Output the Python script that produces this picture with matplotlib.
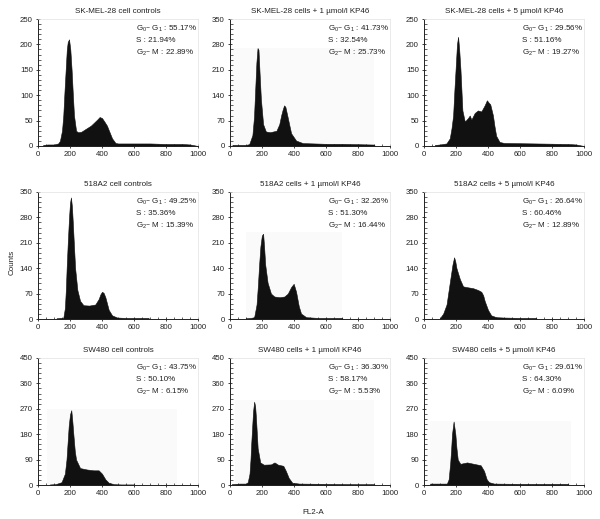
import matplotlib
matplotlib.use("Agg")
import matplotlib.pyplot as plt
from matplotlib.ticker import MultipleLocator, AutoMinorLocator

plt.rcParams['font.family'] = ['Liberation Sans', 'DejaVu Sans']
plt.rcParams['mathtext.default'] = 'regular'

# panel titles and y ranges
titles = ['SK-MEL-28 cell controls', 'SK-MEL-28 cells + 1 µmol/l KP46', 'SK-MEL-28 cells + 5 µmol/l KP46',
          '518A2 cell controls', '518A2 cells + 1 µmol/l KP46', '518A2 cells + 5 µmol/l KP46',
          'SW480 cell controls', 'SW480 cells + 1 µmol/l KP46', 'SW480 cells + 5 µmol/l KP46']
y_max = [250, 350, 250, 350, 350, 350, 450, 450, 450]
y_step = [50, 70, 50, 70, 70, 70, 90, 90, 90]

# cell cycle fractions (%)
g0g1 = ['55.17', '41.73', '29.56', '49.25', '32.26', '26.64', '43.75', '36.30', '29.61']
s_phase = ['21.94', '32.54', '51.16', '35.36', '51.30', '60.46', '50.10', '58.17', '64.30']
g2m = ['22.89', '25.73', '19.27', '15.39', '16.44', '12.89', '6.15', '5.53', '6.09']

# histogram outlines (FL2-A channel, counts)
skmel_ctrl_x = [32, 60, 100, 126, 137, 150, 158, 166, 173, 180, 186, 194, 202, 210, 218, 225, 238, 250, 270, 305, 330, 347, 370, 385, 400, 415, 431, 450, 463, 484, 500, 600, 700, 800, 900, 950, 1000]
skmel_ctrl_y = [2, 3, 3, 5, 10, 30, 60, 110, 150, 190, 205, 210, 190, 150, 100, 60, 30, 27, 28, 35, 40, 45, 52, 57, 55, 48, 40, 25, 15, 6, 5, 5, 5, 4, 4, 3, 0]

skmel_1_x = [15, 60, 98, 120, 140, 150, 157, 165, 172, 178, 185, 193, 207, 224, 250, 290, 308, 320, 329, 338, 346, 360, 372, 382, 413, 455, 600, 700, 800, 900, 905]
skmel_1_y = [3, 3, 3, 5, 30, 80, 150, 230, 270, 265, 200, 130, 60, 40, 38, 42, 60, 85, 100, 112, 108, 80, 55, 35, 15, 8, 6, 6, 5, 4, 0]

skmel_5_x = [68, 100, 140, 161, 172, 182, 190, 199, 206, 213, 220, 228, 240, 255, 275, 286, 296, 317, 337, 358, 379, 393, 405, 414, 431, 440, 451, 472, 500, 700, 900, 950, 1000]
skmel_5_y = [2, 3, 5, 15, 35, 60, 110, 160, 200, 215, 190, 150, 70, 48, 55, 60, 52, 65, 70, 68, 80, 90, 85, 82, 60, 40, 20, 8, 6, 5, 4, 3, 0]

a518_ctrl_x = [116, 140, 158, 168, 174, 179, 186, 194, 200, 206, 212, 217, 225, 232, 246, 263, 284, 320, 358, 379, 390, 400, 410, 421, 442, 463, 495, 550, 690, 695]
a518_ctrl_y = [2, 3, 3, 30, 80, 140, 210, 280, 320, 335, 310, 270, 200, 140, 80, 50, 38, 37, 40, 55, 68, 75, 72, 60, 25, 10, 4, 3, 3, 0]

a518_1_x = [98, 130, 151, 166, 174, 182, 190, 199, 207, 213, 220, 235, 256, 277, 310, 340, 361, 382, 398, 413, 430, 444, 476, 550, 700, 705]
a518_1_y = [2, 3, 5, 40, 90, 150, 200, 230, 235, 200, 150, 100, 70, 62, 60, 62, 70, 88, 97, 75, 35, 15, 5, 3, 3, 0]

a518_5_x = [99, 120, 141, 161, 178, 188, 195, 203, 224, 244, 265, 306, 337, 358, 370, 379, 400, 420, 451, 500, 600, 700, 705]
a518_5_y = [2, 15, 40, 100, 150, 170, 160, 140, 110, 90, 88, 85, 80, 75, 65, 50, 25, 10, 5, 4, 3, 3, 0]

sw_ctrl_x = [74, 110, 147, 168, 178, 185, 192, 200, 208, 214, 221, 230, 238, 263, 305, 347, 379, 400, 421, 442, 474, 520, 600, 605]
sw_ctrl_y = [2, 3, 10, 40, 90, 150, 210, 250, 265, 230, 180, 120, 90, 60, 55, 52, 52, 40, 20, 8, 3, 2, 2, 0]

sw_1_x = [11, 60, 100, 111, 122, 128, 133, 139, 144, 151, 157, 162, 168, 173, 189, 211, 256, 278, 300, 333, 349, 367, 389, 433, 600, 800, 900, 905]
sw_1_y = [3, 5, 5, 10, 40, 90, 150, 210, 260, 295, 280, 240, 180, 130, 80, 72, 73, 80, 72, 68, 50, 25, 8, 5, 4, 3, 3, 0]

sw_5_x = [38, 100, 143, 154, 164, 170, 175, 185, 196, 203, 211, 227, 269, 311, 354, 375, 392, 406, 438, 600, 800, 900, 905]
sw_5_y = [5, 5, 5, 20, 80, 130, 180, 225, 180, 130, 90, 75, 80, 75, 70, 50, 20, 10, 5, 4, 4, 4, 0]

hist_x = [skmel_ctrl_x, skmel_1_x, skmel_5_x, a518_ctrl_x, a518_1_x, a518_5_x, sw_ctrl_x, sw_1_x, sw_5_x]
hist_y = [skmel_ctrl_y, skmel_1_y, skmel_5_y, a518_ctrl_y, a518_1_y, a518_5_y, sw_ctrl_y, sw_1_y, sw_5_y]

# faint gate regions visible behind some histograms (x0, x1, top)
gates = {1: (0, 900, 270), 4: (100, 700, 240), 6: (56, 870, 270), 7: (30, 900, 300), 8: (40, 920, 225)}

fig = plt.figure(figsize=(6, 5.19), dpi=100)
W, H = 600, 519
col_left = [38, 230, 424]
row_top = [19, 192, 358]
aw, ah = 160, 127

for i in range(9):
    r, c = divmod(i, 3)
    ax = fig.add_axes([col_left[c] / W, 1 - (row_top[r] + ah) / H, aw / W, ah / H])
    if i in gates:
        x0, x1, top = gates[i]
        ax.fill_between([x0, x1], 0, top, color='#fafafa', lw=0, zorder=0)
    ax.fill_between(hist_x[i], hist_y[i], 0, color='#111111', lw=0.4, edgecolor='#111111', zorder=2)
    ax.set_xlim(0, 1000)
    ax.set_ylim(0, y_max[i])
    ax.xaxis.set_major_locator(MultipleLocator(200))
    ax.xaxis.set_minor_locator(MultipleLocator(50))
    ax.yaxis.set_major_locator(MultipleLocator(y_step[i]))
    ax.yaxis.set_minor_locator(AutoMinorLocator(5))
    ax.tick_params(which='major', direction='inout', length=3.5, width=0.6, labelsize=5.6, pad=2, colors='#222222')
    ax.tick_params(which='minor', direction='in', length=1.8, width=0.5, colors='#222222')
    for s in ['left', 'bottom']:
        ax.spines[s].set_linewidth(0.7)
        ax.spines[s].set_color('#222222')
    for s in ['top', 'right']:
        ax.spines[s].set_linewidth(0.5)
        ax.spines[s].set_color('#e2e2e2')
    ax.set_title(titles[i], fontsize=5.8, pad=4, color='#222222')
    txt = 'G$_0$– G$_1$ : ' + g0g1[i] + '%\nS : ' + s_phase[i] + '%\nG$_2$– M : ' + g2m[i] + '%'
    ax.text(0.61, 0.96, txt, transform=ax.transAxes, fontsize=5.8, va='top', ha='left',
            linespacing=1.55, color='#222222')

fig.text(12 / W, 1 - 262 / H, 'Counts', rotation=90, fontsize=5.8, va='center', ha='center', color='#222222')
fig.text(313 / W, 1 - 513 / H, 'FL2-A', fontsize=5.8, va='center', ha='center', color='#222222')

fig.savefig('out.png', dpi=100)
